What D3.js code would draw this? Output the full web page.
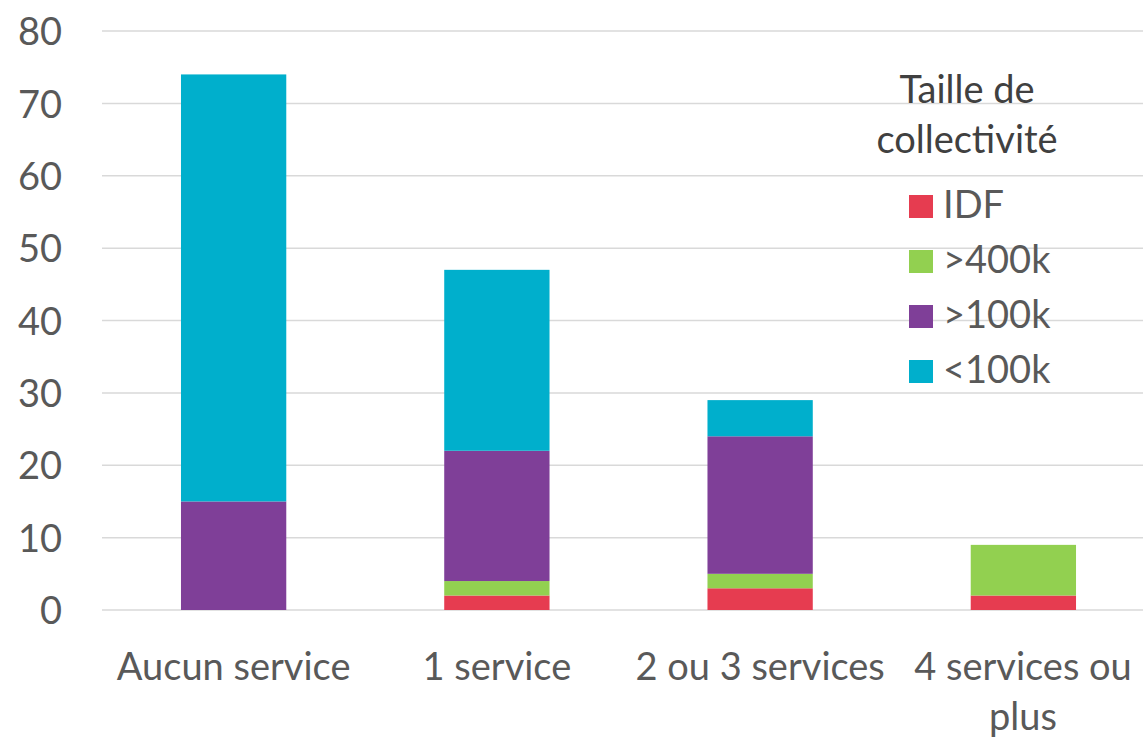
<!DOCTYPE html>
<html><head><meta charset="utf-8">
<script src="https://cdn.jsdelivr.net/npm/d3@7"></script>
<style>body{margin:0;background:#fff}svg{display:block}text{font-family:Lato,"Open Sans",sans-serif}</style>
</head><body>
<svg id="c" width="1143" height="737"></svg>
<script>
const categories = ["Aucun service", "1 service", "2 ou 3 services", "4 services ou plus"];
const seriesNames = ["IDF", ">400k", ">100k", "<100k"];
const idf = [0, 2, 3, 2];
const over400k = [0, 2, 2, 7];
const over100k = [15, 18, 19, 0];
const under100k = [59, 25, 5, 0];
const yTicks = [0, 10, 20, 30, 40, 50, 60, 70, 80];
const colors = ["#E63C50", "#92D050", "#7F3F98", "#00AFCC"];
const legendTitle = ["Taille de", "collectivité"];

const seriesValues = [idf, over400k, over100k, under100k];
const rows = categories.map((c, i) => {
  const r = {cat: c};
  seriesNames.forEach((s, j) => r[s] = seriesValues[j][i]);
  return r;
});
const stack = d3.stack().keys(seriesNames)(rows);

const svg = d3.select("#c");
const x = d3.scaleBand().domain(categories).range([102, 1155]).paddingInner(0.6).paddingOuter(0.3);
const y = d3.scaleLinear().domain([0, 80]).range([610, 31]);
const color = d3.scaleOrdinal().domain(seriesNames).range(colors);

// gridlines
svg.append("g").selectAll("line").data(yTicks).join("line")
  .attr("x1", 102).attr("x2", 1143)
  .attr("y1", d => y(d)).attr("y2", d => y(d))
  .attr("stroke", "#D9D9D9").attr("stroke-width", 1.5);

// y axis labels
const yAxis = d3.axisLeft(y).tickValues(yTicks).tickSize(0).tickPadding(0);
const ya = svg.append("g").attr("transform", "translate(62,0)").call(yAxis);
ya.select(".domain").remove();
ya.selectAll("text").attr("fill", "#595959").style("font-size", "38px").style("font-family", "Lato").attr("dy", "0.36em");

// bars
svg.append("g").selectAll("g").data(stack).join("g")
  .attr("fill", d => color(d.key))
  .selectAll("rect").data(d => d.filter(p => p[1] - p[0] > 0)).join("rect")
  .attr("x", d => x(d.data.cat))
  .attr("width", x.bandwidth())
  .attr("y", d => y(d[1]))
  .attr("height", d => y(d[0]) - y(d[1]));

// x labels
const xl = svg.append("g");
const wrapped = {"4 services ou plus": ["4 services ou", "plus"]};
categories.forEach(c => {
  const lines = wrapped[c] || [c];
  const cx = c === "4 services ou plus" ? 1023 : x(c) + x.bandwidth() / 2;
  lines.forEach((ln, k) => {
    xl.append("text").attr("x", cx).attr("y", 680 + k * 50)
      .attr("text-anchor", "middle").attr("fill", "#595959")
      .style("font-size", "38px").text(ln);
  });
});

// legend
const lg = svg.append("g");
legendTitle.forEach((t, k) => {
  lg.append("text").attr("x", 967).attr("y", 103 + k * 50).attr("text-anchor", "middle")
    .attr("fill", "#404040").style("font-size", "38px").text(t);
});
seriesNames.forEach((s, k) => {
  const yy = 195 + k * 55;
  lg.append("rect").attr("x", 909).attr("y", yy).attr("width", 24).attr("height", 23).attr("fill", color(s));
  lg.append("text").attr("x", 943).attr("y", yy + 23).attr("fill", "#595959").style("font-size", "38px").text(s);
});
</script>
</body></html>
